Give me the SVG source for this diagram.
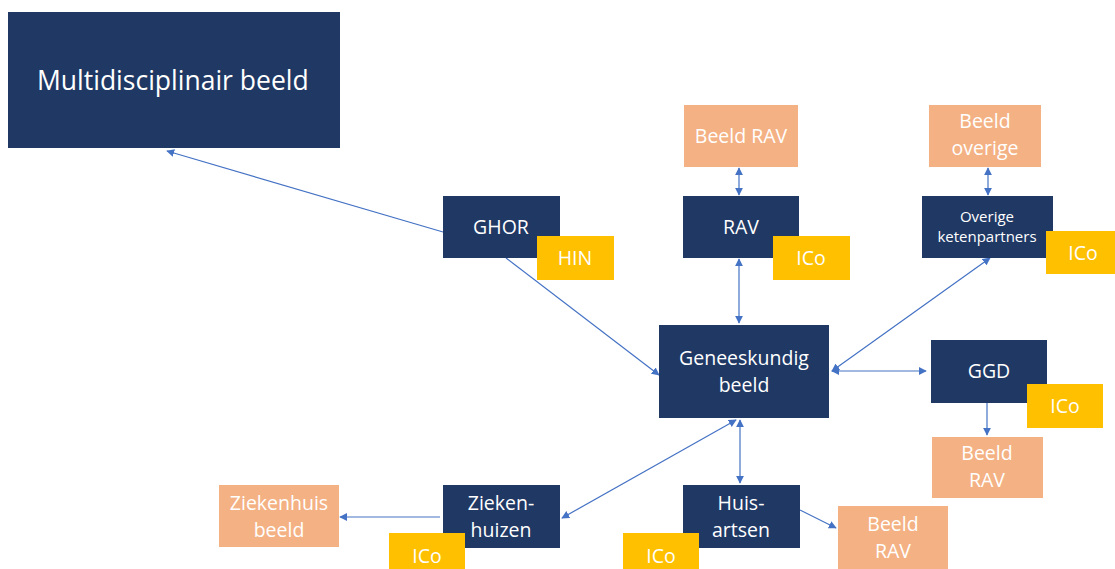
<svg xmlns="http://www.w3.org/2000/svg" width="1115" height="569" viewBox="0 0 1115 569">
<defs>
<style>
.n{fill:#1F3864}
.o{fill:#F4B183}
.y{fill:#FFC000}
text{font-family:"Open Sans","Noto Sans",sans-serif;fill:#fff;text-anchor:middle;font-size:19.5px}
.s{font-size:15px}
.big{font-size:26.5px;text-anchor:start}
.c{stroke:#4472C4;stroke-width:1.2;fill:none}
</style>
<marker id="a" viewBox="0 0 10 10" refX="9" refY="5" markerWidth="8" markerHeight="8" markerUnits="userSpaceOnUse" orient="auto-start-reverse">
<path d="M0,0 L10,5 L0,10 z" fill="#4472C4"/>
</marker>
</defs>
<rect width="1115" height="569" fill="#fff"/>
<g id="connectors">
<line class="c" x1="443" y1="232" x2="167" y2="151" marker-end="url(#a)"/>
<line class="c" x1="506" y1="258" x2="659" y2="375" marker-end="url(#a)"/>
<line class="c" x1="739" y1="168" x2="739" y2="195" marker-start="url(#a)" marker-end="url(#a)"/>
<line class="c" x1="739" y1="259" x2="739" y2="323" marker-start="url(#a)" marker-end="url(#a)"/>
<line class="c" x1="988" y1="168" x2="988" y2="195" marker-start="url(#a)" marker-end="url(#a)"/>
<line class="c" x1="832" y1="371" x2="990" y2="258" marker-start="url(#a)" marker-end="url(#a)"/>
<line class="c" x1="832" y1="371" x2="926" y2="371" marker-start="url(#a)" marker-end="url(#a)"/>
<line class="c" x1="987" y1="403" x2="987" y2="435" marker-end="url(#a)"/>
<line class="c" x1="740" y1="420" x2="740" y2="483" marker-start="url(#a)" marker-end="url(#a)"/>
<line class="c" x1="736" y1="420" x2="562" y2="518" marker-start="url(#a)" marker-end="url(#a)"/>
<line class="c" x1="440" y1="517" x2="340" y2="517" marker-end="url(#a)"/>
<line class="c" x1="800" y1="510" x2="836" y2="528" marker-end="url(#a)"/>
</g>
<g id="multidisciplinair"><rect class="n" x="8" y="12" width="332" height="136"/><text class="big" x="37" y="90">Multidisciplinair beeld</text></g>
<g id="ghor"><rect class="n" x="443" y="196" width="117" height="62"/><text x="501" y="234">GHOR</text></g>
<g id="hin"><rect class="y" x="537" y="236" width="77" height="44"/><text x="575" y="265">HIN</text></g>
<g id="beeld-rav-top"><rect class="o" x="684" y="105" width="114" height="62"/><text x="741" y="143">Beeld RAV</text></g>
<g id="rav"><rect class="n" x="683" y="196" width="116" height="62"/><text x="741" y="234">RAV</text></g>
<g id="ico-rav"><rect class="y" x="773" y="236" width="77" height="44"/><text x="811" y="265">ICo</text></g>
<g id="beeld-overige"><rect class="o" x="929" y="105" width="112" height="62"/><text x="985" y="128">Beeld</text><text x="985" y="155">overige</text></g>
<g id="overige"><rect class="n" x="922" y="196" width="131" height="62"/><text class="s" x="987" y="222">Overige</text><text class="s" x="987" y="242">ketenpartners</text></g>
<g id="ico-overige"><rect class="y" x="1046" y="231" width="69" height="43"/><text x="1083" y="260">ICo</text></g>
<g id="geneeskundig"><rect class="n" x="659" y="325" width="170" height="93"/><text x="744" y="365">Geneeskundig</text><text x="744" y="392">beeld</text></g>
<g id="ggd"><rect class="n" x="931" y="340" width="116" height="63"/><text x="989" y="378">GGD</text></g>
<g id="ico-ggd"><rect class="y" x="1027" y="384" width="76" height="44"/><text x="1065" y="413">ICo</text></g>
<g id="beeld-rav-ggd"><rect class="o" x="932" y="437" width="111" height="61"/><text x="987" y="460">Beeld</text><text x="987" y="487">RAV</text></g>
<g id="ziekenhuizen"><rect class="n" x="443" y="485" width="117" height="63"/><text x="501" y="510">Zieken-</text><text x="501" y="537">huizen</text></g>
<g id="ico-zieken"><rect class="y" x="389" y="533" width="76" height="36"/><text x="427" y="563">ICo</text></g>
<g id="ziekenhuis-beeld"><rect class="o" x="219" y="485" width="120" height="62"/><text x="279" y="510">Ziekenhuis</text><text x="279" y="537">beeld</text></g>
<g id="huisartsen"><rect class="n" x="683" y="485" width="117" height="63"/><text x="741" y="510">Huis-</text><text x="741" y="537">artsen</text></g>
<g id="ico-huis"><rect class="y" x="623" y="533" width="76" height="36"/><text x="661" y="563">ICo</text></g>
<g id="beeld-rav-huis"><rect class="o" x="838" y="506" width="110" height="63"/><text x="893" y="531">Beeld</text><text x="893" y="558">RAV</text></g>
</svg>
